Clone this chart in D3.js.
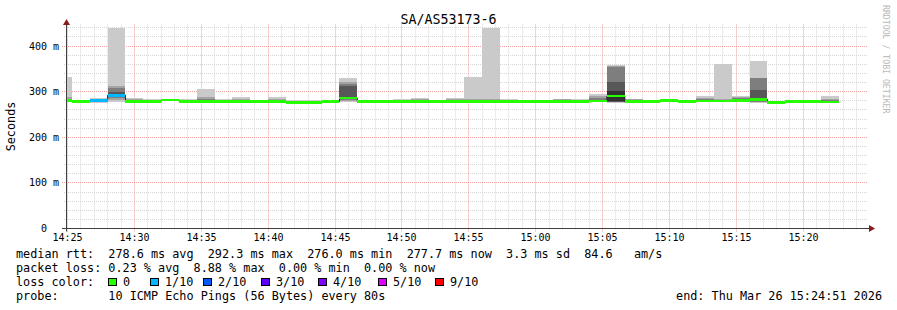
<!DOCTYPE html>
<html>
<head>
<meta charset="utf-8">
<script src="https://cdn.jsdelivr.net/npm/d3@7"></script>
<style>
    body { margin: 0; background: #fff; }
    text { font-family: "DejaVu Sans Mono", monospace; fill: #000; }
</style>
</head>
<body>
<svg id="chart" width="897" height="310"></svg>
<script>
// smokeping style detail graph, one hour, steps of 80s

const title = "SA/AS53173-6";
const yTitle = "Seconds";
const watermark = "RRDTOOL / TOBI OETIKER";

const yTicks = [0, 100, 200, 300, 400];
const yTickLabels = ["0", "100 m", "200 m", "300 m", "400 m"];
const xTickLabels = ["14:25", "14:30", "14:35", "14:40", "14:45", "14:50",
    "14:55", "15:00", "15:05", "15:10", "15:15", "15:20"];

// median rtt (ms) for every 80s step, starting 14:24:00
const medianRtt = [281, 278, 281, 292.3, 278, 279, 282, 279, 279, 279,
    279, 279, 279, 276.8, 276.6, 278.5, 286, 279, 279, 279,
    279, 279, 279, 279, 279, 279, 278.5, 278.5, 279, 279,
    280, 290.6, 278, 278, 281, 278.5, 280, 280, 281, 283,
    276.0, 278.5, 278.5, 277.7];

// lost pings out of 10, per step
const lossTenths = [0, 0, 1, 1, 0, 0, 0, 0, 0, 0,
    0, 0, 0, 0, 0, 0, 0, 0, 0, 0,
    0, 0, 0, 0, 0, 0, 0, 0, 0, 0,
    0, 0, 0, 0, 0, 0, 0, 0, 0, 0,
    0, 0, 0, 0];

// the 10 sorted ping times (ms) of each step -> smoke
const pingRtts = [
    [277, 279, 280, 280, 281, 281, 283, 285, 288, 333],
    [276, 277, 277, 278, 278, 278, 278, 279, 279, 280],
    [276, 277, 278, 280, 281, 281, 282, 283, 284, 286],
    [277, 282, 287, 290, 292, 292.6, 300, 309, 313, 440],
    [276, 277, 277, 277, 278, 278, 279, 280, 283, 286],
    [277, 278, 278, 278, 279, 279, 280, 281, 282, 283.5],
    [279, 280, 281, 281, 282, 282, 282, 283, 283, 284],
    [277, 277, 278, 278, 279, 279, 280, 281, 282, 285],
    [277, 277, 278, 278, 279, 279, 281, 283, 288, 306],
    [277, 278, 278, 278, 279, 279, 280, 281, 282, 284],
    [277, 277, 278, 278, 279, 279, 280, 282, 284, 289],
    [277, 278, 278, 279, 279, 279, 279, 280, 280, 281],
    [277, 277, 278, 278, 279, 279, 280, 281, 283, 288],
    [275, 275, 276, 276, 276.5, 277, 278, 279, 280, 282],
    [275, 275, 276, 276, 276.5, 276.7, 277, 278, 279, 281],
    [277, 277, 278, 278, 278.5, 278.5, 279, 280, 280, 281],
    [277, 279, 281, 285, 285.5, 286.5, 312, 317, 322, 330],
    [277, 278, 278, 279, 279, 279, 280, 280, 281, 282],
    [277, 278, 278, 279, 279, 279, 280, 280, 281, 281],
    [277, 278, 278, 279, 279, 279, 280, 281, 282, 284],
    [277, 278, 278, 279, 279, 279, 280, 281, 283, 286],
    [277, 278, 278, 279, 279, 279, 279, 280, 280, 281],
    [277, 278, 278, 279, 279, 279, 280, 281, 283, 287],
    [277, 278, 278, 279, 279, 279, 280, 282, 285, 333],
    [277, 278, 278, 279, 279, 279, 280, 282, 285, 440],
    [277, 278, 278, 279, 279, 279, 280, 281, 282, 285],
    [277, 278, 278, 278, 278.5, 278.5, 279, 279, 280, 280],
    [277, 278, 278, 278, 278.5, 278.5, 279, 279, 280, 280],
    [277, 278, 278, 279, 279, 279, 280, 281, 283, 284],
    [277, 278, 278, 279, 279, 279, 280, 281, 282, 283],
    [277, 278, 279, 279, 280, 280, 282, 286, 291, 295],
    [276, 277, 277.5, 278, 279, 302.2, 321, 354, 357, 359],
    [276, 277, 277, 278, 278, 278, 279, 281, 283, 285],
    [276, 277, 277, 278, 278, 278, 279, 279, 280, 280],
    [278, 279, 280, 280, 281, 281, 282, 283, 284, 285],
    [277, 277, 278, 278, 278.5, 278.5, 279, 279, 280, 280],
    [277, 278, 279, 279, 280, 280, 281, 283, 286, 290.6],
    [277, 278, 279, 279, 280, 280, 281, 282, 284, 361],
    [277, 278, 279, 280, 281, 281, 283, 286, 289, 290],
    [276, 277, 278, 279, 281, 285, 304, 329, 330, 368],
    [274, 274.5, 275, 275.5, 276, 276, 277, 277.5, 278, 279],
    [277, 277, 278, 278, 278.5, 278.5, 279, 279, 280, 281],
    [277, 277, 278, 278, 278.5, 278.5, 279, 279, 280, 281],
    [276, 276.5, 277, 277, 277.5, 277.9, 279, 281, 285, 290.6]
];

// loss colour legend
const lossLevels = [0, 1, 2, 3, 4, 5, 9];
const lossNames = ["0", "1/10", "2/10", "3/10", "4/10", "5/10", "9/10"];
const lossColors = ["#26ff00", "#00b8ff", "#0059ff", "#5e00ff", "#7e00ff", "#dd00ff", "#ff0000"];

const statsLines = [
    "median rtt:  278.6 ms avg  292.3 ms max  276.0 ms min  277.7 ms now  3.3 ms sd  84.6   am/s",
    "packet loss: 0.23 % avg  8.88 % max  0.00 % min  0.00 % now"
];
const lossLabel = "loss color:";
const probeLine = "probe:       10 ICMP Echo Pings (56 Bytes) every 80s";
const endLine = "end: Thu Mar 26 15:24:51 2026";


const svg = d3.select("#chart");

const startTime = new Date(2026, 2, 26, 14, 24, 51);
const endTime = new Date(2026, 2, 26, 15, 24, 51);
const firstStep = new Date(2026, 2, 26, 14, 24, 0);
const stepMs = 80 * 1000;

const plot = {left: 66, right: 868, top: 24.5, bottom: 228.5};

const x = d3.scaleTime()
    .domain([startTime, endTime])
    .range([65.5, plot.right]);

const y = d3.scaleLinear()
    .domain([0, 447.4])
    .range([plot.bottom, plot.top]);

const crisp = v => Math.round(v - 0.5) + 0.5;
const parseHM = d3.timeParse("%Y-%m-%d %H:%M");

// steps as objects
const steps = medianRtt.map((m, i) => ({
    t0: new Date(firstStep.getTime() + i * stepMs),
    t1: new Date(firstStep.getTime() + (i + 1) * stepMs),
    median: m,
    loss: lossTenths[i],
    pings: pingRtts[i]
}));

// ---- grid (under the data)
const grid = svg.append("g");
const minorColor = "#d6d6d6";
const majorColor = "#f2a0a0";

const minorMinutes = d3.timeMinute.range(startTime, endTime);
const majorTimes = xTickLabels.map(s => parseHM("2026-03-26 " + s));

grid.selectAll(".vminor")
    .data(minorMinutes.filter(t => t.getMinutes() % 5 !== 0))
    .enter().append("line")
    .attr("x1", d => crisp(x(d))).attr("x2", d => crisp(x(d)))
    .attr("y1", plot.top).attr("y2", plot.bottom + 2)
    .attr("stroke", minorColor).attr("stroke-dasharray", "1,1");

const minorVals = d3.range(20, 447, 20).filter(v => v % 100 !== 0);
grid.selectAll(".hminor")
    .data(minorVals)
    .enter().append("line")
    .attr("x1", 64).attr("x2", plot.right)
    .attr("y1", d => crisp(y(d))).attr("y2", d => crisp(y(d)))
    .attr("stroke", minorColor).attr("stroke-dasharray", "1,1");

grid.selectAll(".vmajor")
    .data(majorTimes)
    .enter().append("line")
    .attr("x1", d => crisp(x(d))).attr("x2", d => crisp(x(d)))
    .attr("y1", plot.top).attr("y2", plot.bottom + 3)
    .attr("stroke", majorColor).attr("stroke-dasharray", "1,1");

grid.selectAll(".hmajor")
    .data(yTicks.filter(v => v > 0))
    .enter().append("line")
    .attr("x1", 62).attr("x2", plot.right)
    .attr("y1", d => crisp(y(d))).attr("y2", d => crisp(y(d)))
    .attr("stroke", majorColor).attr("stroke-dasharray", "1,1");

// ---- data, clipped to plot area
svg.append("clipPath").attr("id", "plotclip")
    .append("rect")
    .attr("x", plot.left).attr("y", 0)
    .attr("width", plot.right - plot.left).attr("height", plot.bottom);

const data = svg.append("g").attr("clip-path", "url(#plotclip)");

// smoke: outer pair lightest, inner pair darkest
const smokeShades = ["#cacaca", "#a4a4a4", "#7e7e7e", "#585858", "#323232"];

smokeShades.forEach((shade, i) => {
    data.append("g")
        .selectAll("rect")
        .data(steps)
        .enter().append("rect")
        .attr("x", d => x(d.t0))
        .attr("width", d => x(d.t1) - x(d.t0))
        .attr("y", d => y(d.pings[9 - i]))
        .attr("height", d => y(d.pings[i]) - y(d.pings[9 - i]))
        .attr("fill", shade)
        .attr("shape-rendering", "crispEdges");
});

// thin dark median line (steps)
const stepPoints = steps.map(d => [d.t0, d.median]);
stepPoints.push([steps[steps.length - 1].t1, steps[steps.length - 1].median]);

data.append("path")
    .datum(stepPoints)
    .attr("fill", "none")
    .attr("stroke", "#202020")
    .attr("stroke-width", 1)
    .attr("d", d3.line()
        .curve(d3.curveStepAfter)
        .x(d => x(d[0]))
        .y(d => y(d[1])));

// median band coloured by loss
const lossColor = l => {
    let idx = lossLevels.findIndex(v => l <= v);
    if (idx < 0) idx = lossLevels.length - 1;
    return lossColors[idx];
};

data.append("g")
    .selectAll("rect")
    .data(steps)
    .enter().append("rect")
    .attr("x", d => x(d.t0))
    .attr("width", d => x(d.t1) - x(d.t0))
    .attr("y", d => y(d.median) - 1.3)
    .attr("height", 2.6)
    .attr("fill", d => lossColor(d.loss))
    .attr("shape-rendering", "crispEdges");

// ---- axes
const axisColor = "#404040";
const arrowColor = "#8b1c1c";

svg.append("line")
    .attr("x1", 62).attr("x2", plot.right + 2)
    .attr("y1", plot.bottom).attr("y2", plot.bottom)
    .attr("stroke", axisColor);
svg.append("line")
    .attr("x1", 66.5).attr("x2", 66.5)
    .attr("y1", plot.bottom + 3).attr("y2", 22)
    .attr("stroke", axisColor);

svg.append("path")
    .attr("d", "M63,25 L70,25 L66.5,19 Z")
    .attr("fill", arrowColor);
svg.append("path")
    .attr("d", "M869,225 L869,232 L875,228.5 Z")
    .attr("fill", arrowColor);

// tick labels: the number part lines up, unit takes two columns
const charW = 6.02;
svg.selectAll(".ylab")
    .data(yTicks)
    .enter().append("text")
    .attr("x", (d, i) => yTickLabels[i].includes(" ") ? 59 : 59 - 2 * charW)
    .attr("y", d => crisp(y(d)) + 3.5)
    .attr("text-anchor", "end")
    .style("font-size", "10px")
    .text((d, i) => yTickLabels[i]);

svg.selectAll(".xlab")
    .data(majorTimes)
    .enter().append("text")
    .attr("x", d => crisp(x(d)))
    .attr("y", 241)
    .attr("text-anchor", "middle")
    .style("font-size", "10px")
    .text((d, i) => xTickLabels[i]);

// title, y title, watermark
svg.append("text")
    .attr("x", 448.5).attr("y", 23.5)
    .attr("text-anchor", "middle")
    .style("font-size", "13.3px")
    .text(title);

svg.append("text")
    .attr("transform", "translate(15,126.5) rotate(-90)")
    .attr("text-anchor", "middle")
    .style("font-size", "11.8px")
    .text(yTitle);

svg.append("text")
    .attr("transform", "translate(883,5) rotate(90)")
    .style("font-size", "8.2px")
    .style("fill", "#b8b8b8")
    .text(watermark);

// ---- legend
const legend = svg.append("g").style("font-size", "11.8px");
const lineY = [257.5, 271.7, 285.7, 300];

statsLines.forEach((s, i) => {
    legend.append("text")
        .attr("x", 16).attr("y", lineY[i])
        .attr("xml:space", "preserve")
        .text(s);
});

legend.append("text")
    .attr("x", 16).attr("y", lineY[2])
    .text(lossLabel);

const boxX = [108, 150, 203, 261, 318, 378, 435];
lossNames.forEach((n, i) => {
    legend.append("rect")
        .attr("x", boxX[i] + 0.5).attr("y", 278.5)
        .attr("width", 8).attr("height", 7)
        .attr("fill", lossColors[i])
        .attr("stroke", "#000");
    legend.append("text")
        .attr("x", boxX[i] + 15).attr("y", lineY[2])
        .text(n);
});

legend.append("text")
    .attr("x", 16).attr("y", lineY[3])
    .attr("xml:space", "preserve")
    .text(probeLine);

legend.append("text")
    .attr("x", 882).attr("y", lineY[3])
    .attr("text-anchor", "end")
    .text(endLine);
</script>
</body>
</html>
